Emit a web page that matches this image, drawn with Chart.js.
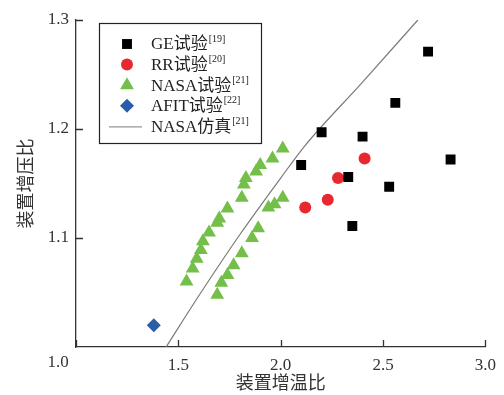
<!DOCTYPE html>
<html>
<head>
<meta charset="utf-8">
<script src="https://cdn.jsdelivr.net/npm/chart.js@4"></script>
<style>
  html, body { margin: 0; padding: 0; background: #fff; }
  #wrap { width: 504px; height: 395px; }
</style>
</head>
<body>
<div id="wrap"><canvas id="c" width="504" height="395"></canvas></div>
<script>
// data
const geX = [2.72, 2.56, 2.20, 2.40, 2.83, 2.10, 2.33, 2.53, 2.35]
const geY = [1.271, 1.224, 1.197, 1.193, 1.172, 1.167, 1.156, 1.147, 1.111]

const rrX = [2.41, 2.28, 2.23, 2.12]
const rrY = [1.173, 1.155, 1.135, 1.128]

const nasaX = [2.01, 1.96, 1.90, 1.88, 1.83, 1.82, 1.81, 1.74, 1.70, 1.69, 1.65, 1.62, 1.61, 1.59, 1.57, 1.54,
  2.01, 1.97, 1.94, 1.89, 1.86, 1.81, 1.77, 1.74, 1.71, 1.69]
const nasaY = [1.182, 1.173, 1.167, 1.161, 1.155, 1.149, 1.137, 1.127, 1.118, 1.114, 1.105, 1.097, 1.089, 1.081, 1.072, 1.060,
  1.137, 1.131, 1.128, 1.109, 1.100, 1.086, 1.075, 1.066, 1.059, 1.048]

const afitX = [1.38]
const afitY = [1.02]

const simX = [1.44, 1.60, 1.80, 2.00, 2.12, 2.40, 2.67]
const simY = [1.000, 1.047, 1.103, 1.155, 1.185, 1.243, 1.300]

const xTicks = [1.0, 1.5, 2.0, 2.5, 3.0]
const yTicks = [1.1, 1.2, 1.3]

const legendItems = [
  { name: 'GE试验', ref: '[19]' },
  { name: 'RR试验', ref: '[20]' },
  { name: 'NASA试验', ref: '[21]' },
  { name: 'AFIT试验', ref: '[22]' },
  { name: 'NASA仿真', ref: '[21]' },
]

const pts = (xs, ys) => xs.map((x, i) => ({ x, y: ys[i] }))

const SERIF = '"Liberation Serif", "Times New Roman", serif'
const CJK = '"Liberation Serif", "Noto Sans CJK SC", serif'
const AXIS = '#333'

// inward tick marks, the shifted "1.0" label and the boxed legend
const extras = {
  id: 'extras',
  afterDraw(chart) {
    const { ctx, chartArea: a, scales } = chart
    ctx.save()
    ctx.strokeStyle = AXIS
    ctx.lineWidth = 1.3
    ctx.beginPath()
    xTicks.forEach((v) => {
      const px = Math.round(scales.x.getPixelForValue(v)) + 0.5
      ctx.moveTo(px, a.bottom)
      ctx.lineTo(px, a.bottom - 7)
    })
    yTicks.forEach((v) => {
      const py = Math.round(scales.y.getPixelForValue(v)) + 0.5
      ctx.moveTo(a.left, py)
      ctx.lineTo(a.left + 7, py)
    })
    ctx.stroke()

    ctx.fillStyle = AXIS
    ctx.font = '17px ' + SERIF
    ctx.textAlign = 'center'
    ctx.textBaseline = 'middle'
    ctx.fillText('1.0', scales.x.getPixelForValue(1.0) - 18, 363)

    // legend
    const bx = a.left + 23, by = a.top + 3, bw = 162, bh = 120
    ctx.strokeStyle = '#222'
    ctx.lineWidth = 1.2
    ctx.strokeRect(bx + 0.5, by + 0.5, bw, bh)
    const ds = chart.data.datasets
    legendItems.forEach((it, i) => {
      const cy = by + 21 + i * 20.6
      const mx = bx + 28
      const d = ds[i]
      if (d.showLine) {
        ctx.strokeStyle = d.borderColor
        ctx.lineWidth = 1
        ctx.beginPath()
        ctx.moveTo(bx + 10, cy + 0.5)
        ctx.lineTo(bx + 43, cy + 0.5)
        ctx.stroke()
      } else {
        ctx.fillStyle = d.backgroundColor
        ctx.strokeStyle = d.backgroundColor
        Chart.helpers.drawPoint(ctx, { pointStyle: d.pointStyle, radius: d.pointRadius, borderWidth: 0 }, mx, cy)
      }
      ctx.fillStyle = '#222'
      ctx.textAlign = 'left'
      ctx.textBaseline = 'middle'
      ctx.font = '17px ' + CJK
      const tx = bx + 52
      ctx.fillText(it.name, tx, cy + 1)
      const w = ctx.measureText(it.name).width
      ctx.font = '10px ' + SERIF
      ctx.fillText(it.ref, tx + w + 1, cy - 5)
    })
    ctx.restore()
  },
}

new Chart(document.getElementById('c'), {
  type: 'scatter',
  data: {
    datasets: [
      {
        label: 'GE试验',
        data: pts(geX, geY),
        pointStyle: 'rect',
        pointRadius: 7,
        backgroundColor: '#000',
        borderWidth: 0,
      },
      {
        label: 'RR试验',
        data: pts(rrX, rrY),
        pointStyle: 'circle',
        pointRadius: 6,
        backgroundColor: '#e8282f',
        borderWidth: 0,
      },
      {
        label: 'NASA试验',
        data: pts(nasaX, nasaY),
        pointStyle: 'triangle',
        pointRadius: 8,
        backgroundColor: '#74bf4a',
        borderWidth: 0,
      },
      {
        label: 'AFIT试验',
        data: pts(afitX, afitY),
        pointStyle: 'rectRot',
        pointRadius: 7,
        backgroundColor: '#2b5ca8',
        borderWidth: 0,
      },
      {
        label: 'NASA仿真',
        data: pts(simX, simY),
        showLine: true,
        pointRadius: 0,
        borderColor: '#7a7a7a',
        borderWidth: 1.2,
        tension: 0.35,
        cubicInterpolationMode: 'monotone',
        order: 5,
      },
    ],
  },
  options: {
    responsive: false,
    animation: false,
    layout: { padding: { top: 20, right: 17, left: 0, bottom: 0 } },
    plugins: {
      legend: { display: false },
      tooltip: { enabled: false },
    },
    scales: {
      x: {
        type: 'linear',
        min: 1.0,
        max: 3.0,
        afterFit: (s) => { s.height = 48 },
        afterBuildTicks: (s) => { s.ticks = xTicks.map((v) => ({ value: v })) },
        grid: { display: false, drawTicks: false },
        border: { color: AXIS, width: 1.3 },
        ticks: {
          padding: 8,
          color: AXIS,
          font: { family: SERIF, size: 17 },
          callback: (v) => (v === 1 ? '' : v.toFixed(1)),
        },
        title: {
          display: true,
          text: '装置增温比',
          color: AXIS,
          font: { family: CJK, size: 18 },
          padding: { top: 0, bottom: 0 },
        },
      },
      y: {
        type: 'linear',
        min: 1.0,
        max: 1.3,
        afterFit: (s) => { s.width = 76 },
        afterBuildTicks: (s) => { s.ticks = yTicks.map((v) => ({ value: v })) },
        grid: { display: false, drawTicks: false },
        border: { color: AXIS, width: 1.3 },
        ticks: {
          padding: 7,
          color: AXIS,
          font: { family: SERIF, size: 17 },
          callback: (v) => v.toFixed(1),
        },
        title: {
          display: true,
          text: '装置增压比',
          color: AXIS,
          font: { family: CJK, size: 18 },
          padding: { top: 16, bottom: 0 },
        },
      },
    },
  },
  plugins: [extras],
})
</script>
</body>
</html>
